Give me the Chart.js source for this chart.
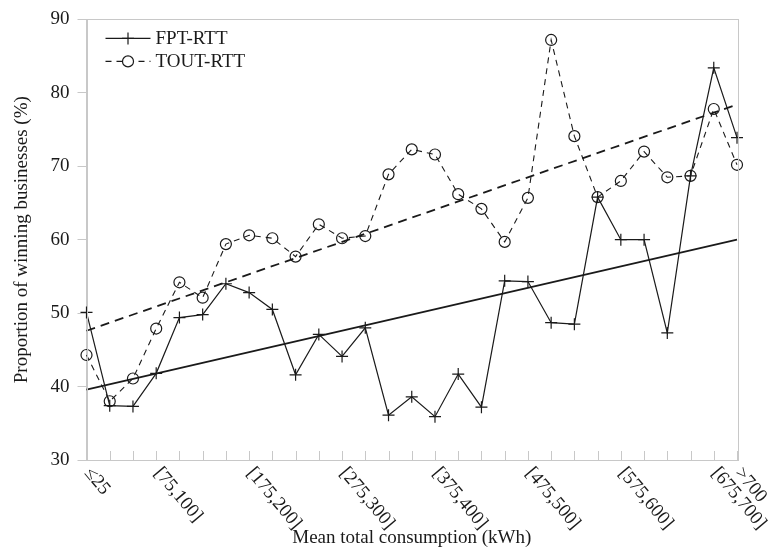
<!DOCTYPE html>
<html>
<head>
<meta charset="utf-8">
<script src="https://cdn.jsdelivr.net/npm/chart.js@4.4.1/dist/chart.umd.min.js"></script>
<style>
  html, body { margin: 0; padding: 0; background: #ffffff; }
  #wrap { width: 772px; height: 558px; position: relative; }
</style>
</head>
<body>
<div id="wrap"><canvas id="c" width="772" height="558"></canvas></div>
<script>
// ---- data ----
const categories = ['≤25','[25,50]','[50,75]','[75,100]','[100,125]','[125,150]','[150,175]','[175,200]',
  '[200,225]','[225,250]','[250,275]','[275,300]','[300,325]','[325,350]','[350,375]','[375,400]',
  '[400,425]','[425,450]','[450,475]','[475,500]','[500,525]','[525,550]','[550,575]','[575,600]',
  '[600,625]','[625,650]','[650,675]','[675,700]','>700'];
const shownTickLabels = ['≤25','[75,100]','[175,200]','[275,300]','[375,400]','[475,500]','[575,600]','[675,700]','>700'];
const seriesNames = ['FPT-RTT','TOUT-RTT'];
const fptValues = [50.1,37.4,37.3,41.8,49.4,49.8,54.0,52.8,50.5,41.6,47.1,44.1,48.0,36.1,38.6,35.9,
  41.7,37.2,54.4,54.3,48.7,48.5,65.8,60.0,60.0,47.3,68.7,83.4,73.9];
const toutValues = [44.3,38.0,41.1,47.9,54.2,52.1,59.4,60.6,60.2,57.7,62.1,60.2,60.5,68.9,72.3,71.6,
  66.2,64.2,59.7,65.7,87.2,74.1,65.8,68.0,72.0,68.5,68.7,77.8,70.2];
const fptTrendEnds = [39.6, 60.0];
const toutTrendEnds = [47.6, 78.4];
const yTicks = [30,40,50,60,70,80,90];
const xTitle = 'Mean total consumption (kWh)';
const yTitle = 'Proportion of winning businesses (%)';

const FONT = '"Liberation Serif", "Times New Roman", serif';
const INK = '#1a1a1a';
const FRAME = '#c8c8c8';

const framePlugin = {
  id: 'framePlugin',
  afterDraw(chart) {
    const {ctx, chartArea: a, scales: {x}} = chart;
    ctx.save();
    // frame box
    ctx.strokeStyle = FRAME;
    ctx.lineWidth = 1;
    ctx.strokeRect(Math.round(a.left) + 0.5, Math.round(a.top) + 0.5,
      Math.round(a.right - a.left), Math.round(a.bottom - a.top));
    // inward x tick marks
    ctx.beginPath();
    for (let i = 1; i < categories.length; i++) {
      const px = Math.round(x.getPixelForValue(i)) + 0.5;
      ctx.moveTo(px, a.bottom);
      ctx.lineTo(px, a.bottom - 9);
    }
    ctx.stroke();
    // rotated x tick labels
    ctx.fillStyle = INK;
    ctx.font = '19px ' + FONT;
    ctx.textAlign = 'left';
    ctx.textBaseline = 'middle';
    const ang = 50 * Math.PI / 180;
    shownTickLabels.forEach(lbl => {
      const idx = categories.indexOf(lbl);
      const px = x.getPixelForValue(idx);
      ctx.save();
      ctx.translate(px + 1, a.bottom + 10);
      ctx.rotate(ang);
      ctx.fillText(lbl, 0, 0);
      ctx.restore();
    });
    // legend inside chart area
    const lx0 = a.left + 19, lx1 = a.left + 64, mx = (lx0 + lx1) / 2;
    const rows = [a.top + 19, a.top + 42];
    ctx.strokeStyle = INK;
    ctx.lineWidth = 1.2;
    // FPT row
    ctx.beginPath(); ctx.moveTo(lx0, rows[0]); ctx.lineTo(lx1, rows[0]); ctx.stroke();
    ctx.beginPath(); ctx.moveTo(mx - 6, rows[0]); ctx.lineTo(mx + 6, rows[0]);
    ctx.moveTo(mx, rows[0] - 6); ctx.lineTo(mx, rows[0] + 6); ctx.stroke();
    // TOUT row
    ctx.setLineDash([6, 5]);
    ctx.beginPath(); ctx.moveTo(lx0, rows[1]); ctx.lineTo(lx1, rows[1]); ctx.stroke();
    ctx.setLineDash([]);
    ctx.fillStyle = '#ffffff';
    ctx.beginPath(); ctx.arc(mx, rows[1], 5.5, 0, Math.PI * 2); ctx.fill(); ctx.stroke();
    ctx.fillStyle = INK;
    ctx.fillText(seriesNames[0], lx1 + 5, rows[0] + 1);
    ctx.fillText(seriesNames[1], lx1 + 5, rows[1] + 1);
    ctx.restore();
  }
};

new Chart(document.getElementById('c'), {
  type: 'line',
  data: {
    labels: categories,
    datasets: [
      {
        label: seriesNames[0], data: fptValues,
        borderColor: INK, borderWidth: 1.2, tension: 0, fill: false,
        pointStyle: 'cross', pointRadius: 6, pointBorderWidth: 1.2, pointBorderColor: INK,
        pointHoverRadius: 6, clip: false
      },
      {
        label: seriesNames[1], data: toutValues,
        borderColor: INK, borderWidth: 1.1, borderDash: [6, 5], tension: 0, fill: false,
        pointStyle: 'circle', pointRadius: 5.5, pointBorderWidth: 1.2, pointBorderColor: INK,
        pointBackgroundColor: 'rgba(0,0,0,0)', pointHoverRadius: 5.5, clip: false
      },
      {
        label: seriesNames[0] + ' trend',
        data: [{x: categories[0], y: fptTrendEnds[0]}, {x: categories[categories.length - 1], y: fptTrendEnds[1]}],
        borderColor: INK, borderWidth: 1.8, pointRadius: 0, fill: false, clip: false
      },
      {
        label: seriesNames[1] + ' trend',
        data: [{x: categories[0], y: toutTrendEnds[0]}, {x: categories[categories.length - 1], y: toutTrendEnds[1]}],
        borderColor: INK, borderWidth: 1.8, borderDash: [9, 6], pointRadius: 0, fill: false, clip: false
      }
    ]
  },
  options: {
    responsive: false,
    animation: false,
    events: [],
    layout: { padding: { left: 0, right: 35, top: 16, bottom: 0 } },
    plugins: { legend: { display: false }, tooltip: { enabled: false } },
    scales: {
      x: {
        type: 'category',
        offset: false,
        grid: { display: false },
        border: { display: false },
        ticks: { display: false },
        title: {
          display: true, text: xTitle, color: INK,
          font: { family: FONT, size: 19 }, padding: { top: 0, bottom: 9 }
        },
        afterFit: (s) => { s.height = 98; }
      },
      y: {
        min: 30, max: 90,
        afterBuildTicks: (s) => { s.ticks = yTicks.map(v => ({ value: v })); },
        grid: { display: true, drawOnChartArea: false, drawTicks: true, tickLength: 9, color: FRAME, lineWidth: 1 },
        border: { display: true, color: FRAME },
        ticks: { color: INK, font: { family: FONT, size: 19 }, padding: 8 },
        title: {
          display: true, text: yTitle, color: INK,
          font: { family: FONT, size: 19 }, padding: { top: 11, bottom: 0 }
        },
        afterFit: (s) => { s.width = 86.5; }
      }
    }
  },
  plugins: [framePlugin]
});
</script>
</body>
</html>
